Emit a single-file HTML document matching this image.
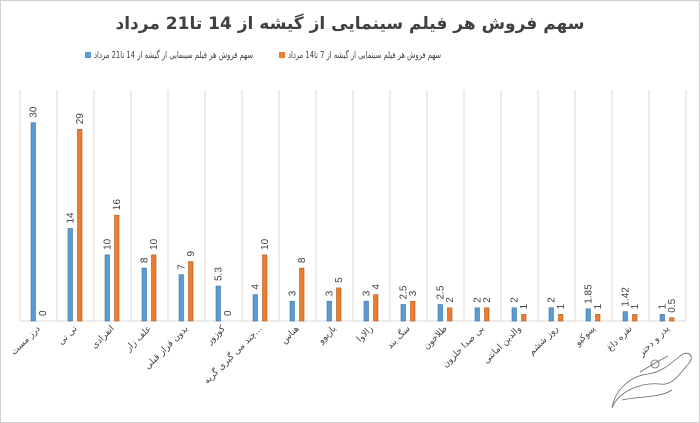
<!DOCTYPE html>
<html><head><meta charset="utf-8">
<style>
html,body{margin:0;padding:0;background:#fff;}
svg{display:block;font-family:"Liberation Sans","DejaVu Sans",sans-serif;}
.b{fill:#5b9bd5;stroke:#41719c;stroke-width:0.6}
.o{fill:#ed7d31;stroke:#ae5a21;stroke-width:0.6}
.v{font-size:10px;fill:#404040}
.n{font-size:9px;fill:#404040;font-family:"DejaVu Sans",sans-serif}
.g{stroke:#d9d9d9;stroke-width:1}
</style></head>
<body>
<svg width="700" height="423" viewBox="0 0 700 423" xmlns="http://www.w3.org/2000/svg">
<rect x="0.5" y="0.5" width="699" height="422" fill="#fff" stroke="#d0d0d0"/>
<text x="350" y="29" text-anchor="middle" font-size="17" font-weight="bold" fill="#404040" font-family="'DejaVu Sans',sans-serif">سهم فروش هر فیلم سینمایی از گیشه از 14 تا21 مرداد</text>
<rect x="279" y="52" width="6" height="6" fill="#ed7d31"/>
<text x="288" y="58" font-size="9.5" fill="#404040" font-family="'DejaVu Sans',sans-serif" textLength="153" lengthAdjust="spacingAndGlyphs">سهم فروش هر فیلم سینمایی از گیشه از 7 تا14 مرداد</text>
<rect x="85" y="52" width="6" height="6" fill="#5b9bd5"/>
<text x="94" y="58" font-size="9.5" fill="#404040" font-family="'DejaVu Sans',sans-serif" textLength="159" lengthAdjust="spacingAndGlyphs">سهم فروش هر فیلم سینمایی از گیشه از 14 تا21 مرداد</text>

<g class="g">
<line x1="20" y1="90" x2="20" y2="321"/><line x1="57" y1="90" x2="57" y2="321"/><line x1="94" y1="90" x2="94" y2="321"/><line x1="131" y1="90" x2="131" y2="321"/><line x1="168" y1="90" x2="168" y2="321"/><line x1="205" y1="90" x2="205" y2="321"/><line x1="242" y1="90" x2="242" y2="321"/><line x1="279" y1="90" x2="279" y2="321"/><line x1="316" y1="90" x2="316" y2="321"/><line x1="353" y1="90" x2="353" y2="321"/><line x1="390" y1="90" x2="390" y2="321"/><line x1="427" y1="90" x2="427" y2="321"/><line x1="464" y1="90" x2="464" y2="321"/><line x1="501" y1="90" x2="501" y2="321"/><line x1="538" y1="90" x2="538" y2="321"/><line x1="575" y1="90" x2="575" y2="321"/><line x1="612" y1="90" x2="612" y2="321"/><line x1="649" y1="90" x2="649" y2="321"/><line x1="686" y1="90" x2="686" y2="321"/>
<line x1="20" y1="321" x2="686" y2="321"/>
</g>

<!-- blue bars -->
<rect class="b" x="31" y="122.7" width="4.5" height="198.3"/>
<rect class="b" x="68" y="228.5" width="4.5" height="92.5"/>
<rect class="b" x="105" y="254.9" width="4.5" height="66.1"/>
<rect class="b" x="142" y="268.1" width="4.5" height="52.9"/>
<rect class="b" x="179" y="274.7" width="4.5" height="46.3"/>
<rect class="b" x="216" y="286" width="4.5" height="35"/>
<rect class="b" x="253" y="294.6" width="4.5" height="26.4"/>
<rect class="b" x="290" y="301.2" width="4.5" height="19.8"/>
<rect class="b" x="327" y="301.2" width="4.5" height="19.8"/>
<rect class="b" x="364" y="301.2" width="4.5" height="19.8"/>
<rect class="b" x="401" y="304.5" width="4.5" height="16.5"/>
<rect class="b" x="438" y="304.5" width="4.5" height="16.5"/>
<rect class="b" x="475" y="307.8" width="4.5" height="13.2"/>
<rect class="b" x="512" y="307.8" width="4.5" height="13.2"/>
<rect class="b" x="549" y="307.8" width="4.5" height="13.2"/>
<rect class="b" x="586" y="308.8" width="4.5" height="12.2"/>
<rect class="b" x="623" y="311.6" width="4.5" height="9.4"/>
<rect class="b" x="660" y="314.4" width="4.5" height="6.6"/>
<!-- orange bars -->
<rect class="o" x="77.5" y="129.3" width="4.5" height="191.7"/>
<rect class="o" x="114.5" y="215.2" width="4.5" height="105.8"/>
<rect class="o" x="151.5" y="254.9" width="4.5" height="66.1"/>
<rect class="o" x="188.5" y="261.5" width="4.5" height="59.5"/>
<rect class="o" x="262.5" y="254.9" width="4.5" height="66.1"/>
<rect class="o" x="299.5" y="268.1" width="4.5" height="52.9"/>
<rect class="o" x="336.5" y="287.9" width="4.5" height="33.1"/>
<rect class="o" x="373.5" y="294.6" width="4.5" height="26.4"/>
<rect class="o" x="410.5" y="301.2" width="4.5" height="19.8"/>
<rect class="o" x="447.5" y="307.8" width="4.5" height="13.2"/>
<rect class="o" x="484.5" y="307.8" width="4.5" height="13.2"/>
<rect class="o" x="521.5" y="314.4" width="4.5" height="6.6"/>
<rect class="o" x="558.5" y="314.4" width="4.5" height="6.6"/>
<rect class="o" x="595.5" y="314.4" width="4.5" height="6.6"/>
<rect class="o" x="632.5" y="314.4" width="4.5" height="6.6"/>
<rect class="o" x="669.5" y="317.7" width="4.5" height="3.3"/>

<!-- value labels blue -->
<g class="v">
<text transform="translate(36.7,117.7) rotate(-90)">30</text>
<text transform="translate(73.7,223.5) rotate(-90)">14</text>
<text transform="translate(110.7,249.9) rotate(-90)">10</text>
<text transform="translate(147.7,263.1) rotate(-90)">8</text>
<text transform="translate(184.7,269.7) rotate(-90)">7</text>
<text transform="translate(221.7,281) rotate(-90)">5.3</text>
<text transform="translate(258.7,289.6) rotate(-90)">4</text>
<text transform="translate(295.7,296.2) rotate(-90)">3</text>
<text transform="translate(332.7,296.2) rotate(-90)">3</text>
<text transform="translate(369.7,296.2) rotate(-90)">3</text>
<text transform="translate(406.7,299.5) rotate(-90)">2.5</text>
<text transform="translate(443.7,299.5) rotate(-90)">2.5</text>
<text transform="translate(480.7,302.8) rotate(-90)">2</text>
<text transform="translate(517.7,302.8) rotate(-90)">2</text>
<text transform="translate(554.7,302.8) rotate(-90)">2</text>
<text transform="translate(591.7,303.8) rotate(-90)">1.85</text>
<text transform="translate(628.7,306.6) rotate(-90)">1.42</text>
<text transform="translate(665.7,309.4) rotate(-90)">1</text>
<!-- orange -->
<text transform="translate(46.2,316) rotate(-90)">0</text>
<text transform="translate(83.2,124.3) rotate(-90)">29</text>
<text transform="translate(120.2,210.2) rotate(-90)">16</text>
<text transform="translate(157.2,249.9) rotate(-90)">10</text>
<text transform="translate(194.2,256.5) rotate(-90)">9</text>
<text transform="translate(231.2,316) rotate(-90)">0</text>
<text transform="translate(268.2,249.9) rotate(-90)">10</text>
<text transform="translate(305.2,263.1) rotate(-90)">8</text>
<text transform="translate(342.2,282.9) rotate(-90)">5</text>
<text transform="translate(379.2,289.6) rotate(-90)">4</text>
<text transform="translate(416.2,296.2) rotate(-90)">3</text>
<text transform="translate(453.2,302.8) rotate(-90)">2</text>
<text transform="translate(490.2,302.8) rotate(-90)">2</text>
<text transform="translate(527.2,309.4) rotate(-90)">1</text>
<text transform="translate(564.2,309.4) rotate(-90)">1</text>
<text transform="translate(601.2,309.4) rotate(-90)">1</text>
<text transform="translate(638.2,309.4) rotate(-90)">1</text>
<text transform="translate(675.2,312.7) rotate(-90)">0.5</text>
</g>

<!-- category labels -->
<g class="n" text-anchor="end">
<text transform="translate(40.5,329) rotate(-45)">درز مست</text>
<text transform="translate(77.5,329) rotate(-45)">تی تی</text>
<text transform="translate(114.5,329) rotate(-45)">انفرادی</text>
<text transform="translate(151.5,329) rotate(-45)">علف زار</text>
<text transform="translate(188.5,329) rotate(-45)">بدون قرار قبلی</text>
<text transform="translate(225.5,329) rotate(-45)">کوزور</text>
<text transform="translate(262.5,329) rotate(-45)">چند می گیری گریه...</text>
<text transform="translate(299.5,329) rotate(-45)">هناس</text>
<text transform="translate(336.5,329) rotate(-45)">بازیوو</text>
<text transform="translate(373.5,329) rotate(-45)">زالاوا</text>
<text transform="translate(410.5,329) rotate(-45)">سگ بند</text>
<text transform="translate(447.5,329) rotate(-45)">طلاخون</text>
<text transform="translate(484.5,329) rotate(-45)">بی صدا حلزون</text>
<text transform="translate(521.5,329) rotate(-45)">والدین امانتی</text>
<text transform="translate(558.5,329) rotate(-45)">روز ششم</text>
<text transform="translate(595.5,329) rotate(-45)">پینوکیو</text>
<text transform="translate(632.5,329) rotate(-45)">نقره داغ</text>
<text transform="translate(669.5,329) rotate(-45)">پدر و دختر</text>
</g>

<g fill="none" stroke="#666" stroke-width="0.8">
<path d="M612 408 C618 392 640 382 660 384 C672 386 678 376 690 362 C694 355 688 350 680 356 C670 364 662 372 648 374 C630 376 615 390 612 408 Z"/>
<path d="M622 400 C640 396 660 398 672 390"/>
<circle cx="655" cy="364" r="4"/>
<path d="M640 372 C650 366 660 360 668 356"/>
</g>
</svg>
</body></html>
